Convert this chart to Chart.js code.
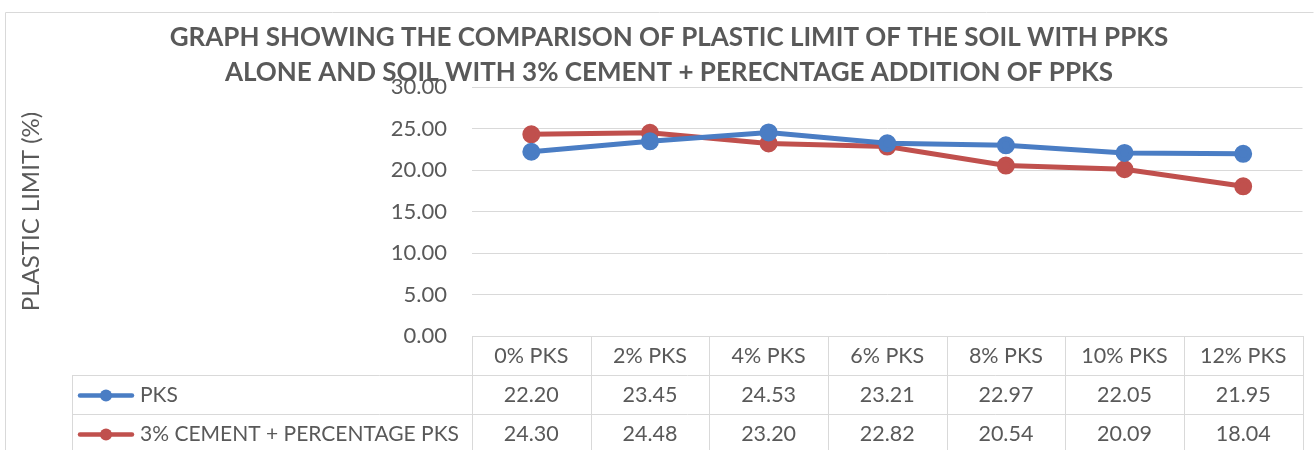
<!DOCTYPE html>
<html>
<head>
<meta charset="utf-8">
<script src="https://cdn.jsdelivr.net/npm/chart.js@4.4.0/dist/chart.umd.min.js"></script>
<style>
    body { margin: 0; background: #ffffff; }
    #wrap { width: 1314px; height: 450px; position: relative; }
</style>
</head>
<body>
<div id="wrap"><canvas id="plastic-limit-chart"></canvas></div>
<script>
    const categories = ['0% PKS', '2% PKS', '4% PKS', '6% PKS', '8% PKS', '10% PKS', '12% PKS'];
    const pksValues = [22.20, 23.45, 24.53, 23.21, 22.97, 22.05, 21.95];
    const cementPksValues = [24.30, 24.48, 23.20, 22.82, 20.54, 20.09, 18.04];
    const seriesNames = ['PKS', '3% CEMENT + PERCENTAGE PKS'];
    const titleLines = [
        'GRAPH SHOWING THE COMPARISON OF PLASTIC LIMIT OF THE SOIL WITH PPKS',
        'ALONE AND SOIL WITH 3% CEMENT + PERECNTAGE ADDITION OF PPKS'
    ];

    const FONT = 'Lato, "Open Sans", sans-serif';
    const TEXT = '#595959';
    const GRID = '#d9d9d9';

    // ------------------- Title + frame ------------------
    const framePlugin = {
        id: 'frame',
        beforeDraw(chart) {
            const ctx = chart.ctx;
            ctx.save();
            ctx.strokeStyle = GRID;
            ctx.lineWidth = 1;
            ctx.beginPath();
            ctx.moveTo(5.5, 460);
            ctx.lineTo(5.5, 12.5);
            ctx.lineTo(1313.5, 12.5);
            ctx.stroke();
            ctx.restore();
        },
        afterDraw(chart) {
            const ctx = chart.ctx;
            ctx.save();
            ctx.fillStyle = TEXT;
            ctx.font = 'bold 26px ' + FONT;
            ctx.textAlign = 'center';
            ctx.textBaseline = 'middle';
            ctx.fillText(titleLines[0], 669, 38);
            ctx.fillText(titleLines[1], 669, 73);
            ctx.restore();
        }
    };

    // ------------------- Data table under the plot ------------------
    const tablePlugin = {
        id: 'dataTable',
        afterDraw(chart) {
            const ctx = chart.ctx;
            const area = chart.chartArea;
            const xScale = chart.scales.x;
            const colW = (area.right - area.left) / categories.length;
            const top = Math.round(area.bottom);
            const rowH = 39;
            const tableLeft = 72;
            const right = Math.round(area.right);

            ctx.save();
            ctx.strokeStyle = GRID;
            ctx.lineWidth = 1;
            ctx.beginPath();
            ctx.moveTo(Math.round(area.left), top + 0.5);
            ctx.lineTo(right, top + 0.5);
            for (let r = 1; r <= 2; r++) {
                ctx.moveTo(tableLeft, top + rowH * r + 0.5);
                ctx.lineTo(right, top + rowH * r + 0.5);
            }
            ctx.moveTo(tableLeft + 0.5, top + rowH);
            ctx.lineTo(tableLeft + 0.5, 460);
            for (let i = 0; i <= categories.length; i++) {
                const x = Math.round(area.left + colW * i) + 0.5;
                ctx.moveTo(x, top);
                ctx.lineTo(x, 460);
            }
            ctx.stroke();

            ctx.fillStyle = TEXT;
            ctx.font = '21.5px ' + FONT;
            ctx.textAlign = 'center';
            ctx.textBaseline = 'middle';
            categories.forEach((c, i) => {
                const x = xScale.getPixelForValue(i);
                ctx.fillText(c, x, top + rowH / 2 + 1);
            });

            chart.data.datasets.forEach((ds, r) => {
                const y = top + rowH * (r + 1) + rowH / 2 + 1;
                ctx.font = '21.5px ' + FONT;
                ds.data.forEach((v, i) => {
                    ctx.fillText(v.toFixed(2), xScale.getPixelForValue(i), y);
                });

                // legend key
                ctx.strokeStyle = ds.borderColor;
                ctx.lineWidth = 4.5;
                ctx.lineCap = 'round';
                ctx.beginPath();
                ctx.moveTo(80, y);
                ctx.lineTo(132, y);
                ctx.stroke();
                ctx.fillStyle = ds.borderColor;
                ctx.beginPath();
                ctx.arc(106, y, 6, 0, Math.PI * 2);
                ctx.fill();

                ctx.fillStyle = TEXT;
                ctx.textAlign = 'left';
                ctx.font = '21px ' + FONT;
                ctx.fillText(seriesNames[r], 140, y);
                ctx.textAlign = 'center';
            });
            ctx.restore();
        }
    };

    // ------------------- Chart Data ------------------
    const data = {
        labels: categories,
        datasets: [{
            label: seriesNames[0],
            data: pksValues,
            borderColor: '#4A7DC4',
            backgroundColor: '#4A7DC4',
            borderWidth: 5,
            pointRadius: 6.5,
            pointHoverRadius: 6.5,
            tension: 0
        }, {
            label: seriesNames[1],
            data: cementPksValues,
            borderColor: '#C0504D',
            backgroundColor: '#C0504D',
            borderWidth: 5,
            pointRadius: 6.5,
            pointHoverRadius: 6.5,
            tension: 0
        }]
    };

    // ------------------- Chart Options ------------------
    const chartOptions = {
        responsive: true,
        maintainAspectRatio: false,
        animation: false,
        layout: {
            padding: { top: 87, bottom: 114, left: 5, right: 2 }
        },
        plugins: {
            legend: { display: false },
            title: { display: false },
            tooltip: { enabled: false }
        },
        scales: {
            x: {
                display: false,
                offset: true
            },
            y: {
                min: 0,
                max: 30,
                afterFit(scale) {
                    scale.width = 467;
                },
                ticks: {
                    stepSize: 5,
                    padding: 25,
                    color: TEXT,
                    font: { family: FONT, size: 22 },
                    callback: (v) => Number(v).toFixed(2)
                },
                grid: {
                    color: GRID,
                    lineWidth: 1,
                    drawTicks: false
                },
                border: { display: false },
                title: {
                    display: true,
                    text: 'PLASTIC LIMIT (%)',
                    color: TEXT,
                    font: { family: FONT, size: 24 },
                    padding: { top: 12, bottom: 0 }
                }
            }
        }
    };

    // ------------------- Initialize Chart ------------------
    const myChart = new Chart(
        document.getElementById('plastic-limit-chart'),
        {
            type: 'line',
            data: data,
            options: chartOptions,
            plugins: [framePlugin, tablePlugin]
        }
    );
</script>
</body>
</html>
